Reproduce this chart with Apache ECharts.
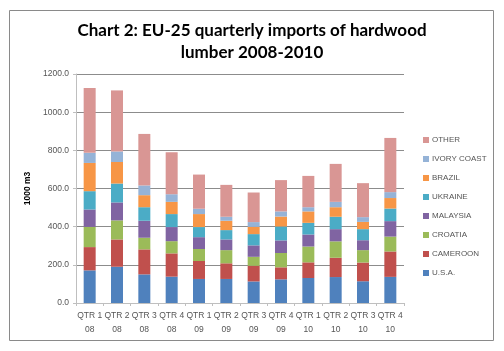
<!DOCTYPE html>
<html>
<head>
<meta charset="utf-8">
<script src="https://cdn.jsdelivr.net/npm/echarts@6/dist/echarts.min.js"></script>
<style>
  html, body { margin: 0; padding: 0; background: #fff; }
  #chart { width: 504px; height: 351px; }
</style>
</head>
<body>
<div id="chart"></div>
<script>
const quarters = ['QTR 1\n08', 'QTR 2\n08', 'QTR 3\n08', 'QTR 4\n08', 'QTR 1\n09', 'QTR 2\n09', 'QTR 3\n09', 'QTR 4\n09', 'QTR 1\n10', 'QTR 2\n10', 'QTR 3\n10', 'QTR 4\n10']
const usa = [171, 190, 150, 138, 126, 126, 113, 124, 131, 136, 114, 137]
const cameroon = [122, 143, 131, 122, 94, 82, 82, 63, 82, 101, 98, 133]
const croatia = [106, 100, 61, 64, 63, 69, 47, 75, 83, 86, 65, 78]
const malaysia = [91, 94, 89, 74, 62, 56, 60, 66, 63, 64, 52, 81]
const ukraine = [96, 99, 71, 68, 53, 49, 59, 73, 61, 65, 58, 66]
const brazil = [148, 113, 63, 64, 68, 49, 38, 52, 60, 50, 38, 55]
const ivoryCoast = [53, 55, 51, 40, 28, 21, 25, 27, 22, 28, 25, 31]
const other = [340, 320, 270, 220, 179, 167, 155, 164, 164, 199, 178, 284]
const yTicks = [0, 200, 400, 600, 800, 1000, 1200]

const chart = echarts.init(document.getElementById('chart'))

function bar(name, data, color) {
    return {
        name: name,
        type: 'bar',
        stack: 'total',
        barWidth: 12,
        data: data,
        itemStyle: { color: color }
    }
}

chart.setOption({
    animation: false,
    title: {
        text: 'Chart 2: EU-25 quarterly imports of hardwood\nlumber 2008-2010',
        left: 'center',
        top: 15,
        textStyle: {
            fontFamily: 'Lato',
            fontWeight: 'bold',
            fontSize: 17,
            lineHeight: 22,
            color: '#000'
        }
    },
    graphic: [{
        type: 'rect',
        shape: { x: 9.5, y: 10.5, width: 484, height: 330 },
        style: { fill: 'none', stroke: '#8a8a8a', lineWidth: 1 },
        silent: true
    }],
    legend: {
        orient: 'vertical',
        left: 418,
        top: 131,
        itemWidth: 6,
        itemHeight: 6,
        itemGap: 11,
        icon: 'rect',
        textStyle: { fontFamily: 'Liberation Sans', fontSize: 8, color: '#555', padding: [0, 0, 0, -2] },
        data: ['OTHER', 'IVORY COAST', 'BRAZIL', 'UKRAINE', 'MALAYSIA', 'CROATIA', 'CAMEROON', 'U.S.A.']
    },
    grid: {
        left: 76,
        right: 100,
        top: 74,
        bottom: 48
    },
    xAxis: {
        type: 'category',
        data: quarters,
        axisLine: { lineStyle: { color: '#bfbfbf' } },
        axisTick: { show: true, length: 3, lineStyle: { color: '#bfbfbf' } },
        axisLabel: {
            interval: 0,
            fontFamily: 'Liberation Sans',
            fontSize: 8.5,
            color: '#555',
            lineHeight: 14,
            margin: 6
        }
    },
    yAxis: {
        type: 'value',
        min: yTicks[0],
        max: yTicks[yTicks.length - 1],
        interval: 200,
        name: '1000 m3',
        nameLocation: 'middle',
        nameGap: 38,
        nameTextStyle: { fontFamily: 'Liberation Sans', fontWeight: 'bold', fontSize: 8.5, color: '#000' },
        axisLine: { show: true, lineStyle: { color: '#bfbfbf' } },
        axisTick: { show: true, length: 3, lineStyle: { color: '#bfbfbf' } },
        splitLine: { lineStyle: { color: '#8c8c8c' } },
        axisLabel: {
            fontFamily: 'Liberation Sans',
            fontSize: 8.5,
            color: '#555',
            margin: 7,
            formatter: function (v) { return v.toFixed(1) }
        }
    },
    series: [
        bar('U.S.A.', usa, '#4f81bd'),
        bar('CAMEROON', cameroon, '#c0504d'),
        bar('CROATIA', croatia, '#9bbb59'),
        bar('MALAYSIA', malaysia, '#8064a2'),
        bar('UKRAINE', ukraine, '#4bacc6'),
        bar('BRAZIL', brazil, '#f79646'),
        bar('IVORY COAST', ivoryCoast, '#95b3d7'),
        bar('OTHER', other, '#d99694')
    ]
})
</script>
</body>
</html>
